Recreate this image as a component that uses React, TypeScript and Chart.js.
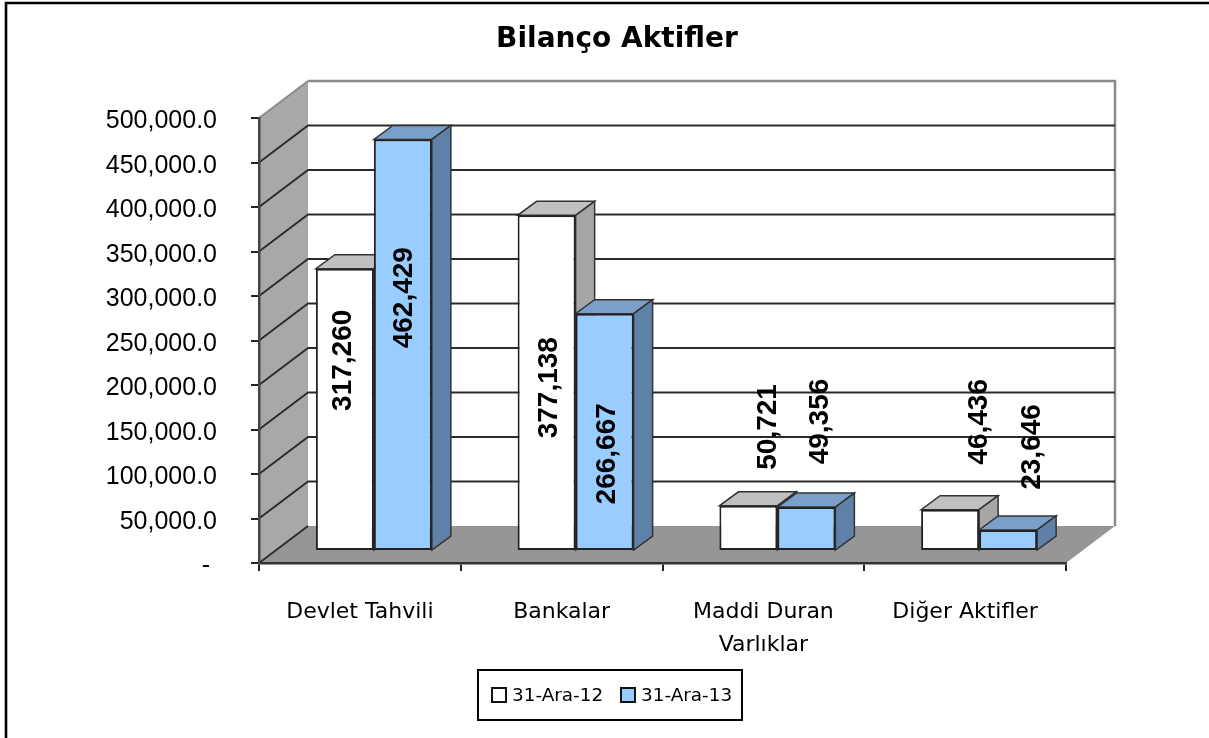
import React, { useEffect, useRef } from "react";
import { Chart, registerables } from "chart.js";

Chart.register(...registerables);

const categories: (string | string[])[] = ["Devlet Tahvili", "Bankalar", ["Maddi Duran", "Varlıklar"], "Diğer Aktifler"];
const series2012 = [317260, 377138, 50721, 46436];
const series2013 = [462429, 266667, 49356, 23646];
const seriesNames = ["31-Ara-12", "31-Ara-13"];
const chartTitle = "Bilanço Aktifler";

const CW = 1209;
const CH = 738;
const AREA = { left: 259, top: 118, right: 1066, bottom: 563 };
const WALL_DX = 49;
const WALL_DY = 37;
const BAR_SHIFT_X = 14;
const BAR_SHIFT_Y = 12;
const BAR_DEPTH_X = 19;
const BAR_DEPTH_Y = 14;
const HAND_FONT = '"DejaVu Sans"';

// manual label placement, relative to the bar's front face centre
const NUDGE_X = [[-1.5, 2.5, 19.5, 29.5], [1.5, 3, 13.5, 24.5]];
const NUDGE_Y = [[-49, 5, -101, -108], [-47, 22, -107, -93]];

const FACE = [
  { top: "#c0c0c0", side: "#a6a6a6" },
  { top: "#7a9fc8", side: "#5f81a8" },
];

function poly(ctx: CanvasRenderingContext2D, pts: number[][], fill: string, stroke?: string, lw = 1.5) {
  ctx.beginPath();
  pts.forEach((p, i) => (i ? ctx.lineTo(p[0], p[1]) : ctx.moveTo(p[0], p[1])));
  ctx.closePath();
  ctx.fillStyle = fill;
  ctx.fill();
  if (stroke) {
    ctx.strokeStyle = stroke;
    ctx.lineWidth = lw;
    ctx.stroke();
  }
}

const scene3d = {
  id: "scene3d",
  beforeDraw(chart: any) {
    const { ctx } = chart;
    const y = chart.scales.y;
    const { left, right, top, bottom } = chart.chartArea;
    ctx.save();
    ctx.fillStyle = "#fff";
    ctx.fillRect(0, 0, CW, CH);

    // outer frame
    ctx.strokeStyle = "#000";
    ctx.lineWidth = 2.6;
    ctx.beginPath();
    ctx.moveTo(6, CH);
    ctx.lineTo(6, 3);
    ctx.lineTo(CW, 3);
    ctx.stroke();

    // left wall
    poly(ctx, [[left, bottom], [left + WALL_DX, bottom - WALL_DY], [left + WALL_DX, top - WALL_DY], [left, top]], "#a8a8a8");
    // floor
    poly(ctx, [[left, bottom], [right, bottom], [right + WALL_DX, bottom - WALL_DY], [left + WALL_DX, bottom - WALL_DY]], "#969696");

    // back-wall border
    ctx.strokeStyle = "#8a8a8a";
    ctx.lineWidth = 2.5;
    ctx.beginPath();
    ctx.moveTo(left + WALL_DX, top - WALL_DY);
    ctx.lineTo(right + WALL_DX, top - WALL_DY);
    ctx.lineTo(right + WALL_DX, bottom - WALL_DY);
    ctx.stroke();

    // grid lines on both walls
    y.ticks.forEach((t: any) => {
      const py = y.getPixelForValue(t.value);
      ctx.strokeStyle = t.value === y.max ? "#8a8a8a" : "#2a2a2a";
      ctx.lineWidth = 1.8;
      ctx.beginPath();
      ctx.moveTo(left, py);
      ctx.lineTo(left + WALL_DX, py - WALL_DY);
      if (t.value > 0 && t.value < y.max) ctx.lineTo(right + WALL_DX, py - WALL_DY);
      ctx.stroke();
    });
    ctx.restore();
  },
  beforeDatasetsDraw(chart: any) {
    const { ctx } = chart;
    ctx.save();
    ctx.translate(BAR_SHIFT_X, -BAR_SHIFT_Y);
    [0, 1].forEach((di) => {
      const face = FACE[di];
      chart.getDatasetMeta(di).data.forEach((bar: any) => {
        const l = bar.x - bar.width / 2;
        const r = bar.x + bar.width / 2;
        const t = bar.y;
        const b = bar.base;
        poly(ctx, [[l, t], [r, t], [r + BAR_DEPTH_X, t - BAR_DEPTH_Y], [l + BAR_DEPTH_X, t - BAR_DEPTH_Y]], face.top, "#333");
        poly(ctx, [[r, t], [r + BAR_DEPTH_X, t - BAR_DEPTH_Y], [r + BAR_DEPTH_X, b - BAR_DEPTH_Y], [r, b]], face.side, "#333");
        bar.draw(ctx, chart.chartArea);
      });
    });
    ctx.restore();
  },
  // bars are painted above, white series first, so that blue overlaps it
  beforeDatasetDraw() {
    return false;
  },
  afterDatasetsDraw(chart: any) {
    const { ctx } = chart;
    ctx.save();
    ctx.fillStyle = "#000";
    ctx.textAlign = "center";
    ctx.textBaseline = "middle";
    ctx.font = 'bold 28px "Liberation Sans"';
    chart.data.datasets.forEach((ds: any, di: number) => {
      chart.getDatasetMeta(di).data.forEach((bar: any, i: number) => {
        const cx = bar.x + BAR_SHIFT_X + NUDGE_X[di][i];
        const cy = (bar.y + bar.base) / 2 - BAR_SHIFT_Y + NUDGE_Y[di][i];
        ctx.save();
        ctx.translate(cx, cy);
        ctx.rotate(-Math.PI / 2);
        ctx.fillText(ds.data[i].toLocaleString("en-US"), 0, 0);
        ctx.restore();
      });
    });
    ctx.restore();
  },
  afterDraw(chart: any) {
    const { ctx } = chart;
    ctx.save();
    // title
    ctx.fillStyle = "#000";
    ctx.textAlign = "center";
    ctx.textBaseline = "middle";
    ctx.font = `bold 28px ${HAND_FONT}`;
    ctx.fillText(chartTitle, 617, 40);

    // legend
    ctx.strokeStyle = "#000";
    ctx.lineWidth = 2;
    ctx.fillStyle = "#fff";
    ctx.fillRect(478, 670, 264, 50);
    ctx.strokeRect(478, 670, 264, 50);
    const xs = [492, 621];
    chart.data.datasets.forEach((ds: any, i: number) => {
      ctx.fillStyle = ds.backgroundColor;
      ctx.fillRect(xs[i], 688, 14, 14);
      ctx.strokeStyle = "#111";
      ctx.strokeRect(xs[i], 688, 14, 14);
      ctx.fillStyle = "#000";
      ctx.textAlign = "left";
      ctx.font = `18.4px ${HAND_FONT}`;
      ctx.fillText(ds.label, xs[i] + 20, 696);
    });
    ctx.restore();
  },
};

export default function App() {
  const ref = useRef<HTMLCanvasElement>(null);
  useEffect(() => {
    document.body.style.margin = "0";
    document.body.style.overflow = "hidden";
    const barStyle = { borderColor: "#222", borderWidth: 2, borderSkipped: false };
    const chart = new Chart(ref.current!, {
      type: "bar",
      data: {
        labels: categories as any,
        datasets: [
          { label: seriesNames[0], data: series2012, backgroundColor: "#ffffff", ...barStyle },
          { label: seriesNames[1], data: series2013, backgroundColor: "#99ccff", ...barStyle },
        ],
      },
      options: {
        animation: false,
        responsive: false,
        events: [],
        layout: { autoPadding: false, padding: { left: 0, top: AREA.top, right: CW - AREA.right, bottom: 0 } },
        plugins: { legend: { display: false }, tooltip: { enabled: false }, title: { display: false } },
        datasets: { bar: { categoryPercentage: 0.575, barPercentage: 1 } },
        scales: {
          x: {
            afterFit: (s: any) => { s.height = CH - AREA.bottom; },
            grid: { drawOnChartArea: false, tickLength: 8, color: "#222", lineWidth: 2 },
            border: { color: "#333", width: 2.5 },
            ticks: {
              color: "#000",
              font: { family: HAND_FONT, size: 22, lineHeight: 1.5 },
              padding: 25,
              maxRotation: 0,
              autoSkip: false,
            },
          },
          y: {
            min: 0,
            max: 500000,
            afterFit: (s: any) => { s.width = AREA.left; },
            grid: { drawOnChartArea: false, tickLength: 8, color: "#222", lineWidth: 2 },
            border: { color: "#444", width: 2.5 },
            ticks: {
              stepSize: 50000,
              color: "#000",
              font: { family: '"Liberation Sans"', size: 25 },
              padding: 34,
              labelOffset: 3.5,
              callback: (v: any) => (v === 0 ? "- " : Number(v).toLocaleString("en-US", { minimumFractionDigits: 1 })),
            },
          },
        },
      } as any,
      plugins: [scene3d],
    });
    return () => chart.destroy();
  }, []);
  return (
    <div style={{ position: "fixed", left: 0, top: 0, width: CW, height: CH, overflow: "hidden", background: "#fff" }}>
      <canvas ref={ref} width={CW} height={CH} style={{ display: "block", width: CW, height: CH, filter: "blur(0.4px)" }} />
    </div>
  );
}
